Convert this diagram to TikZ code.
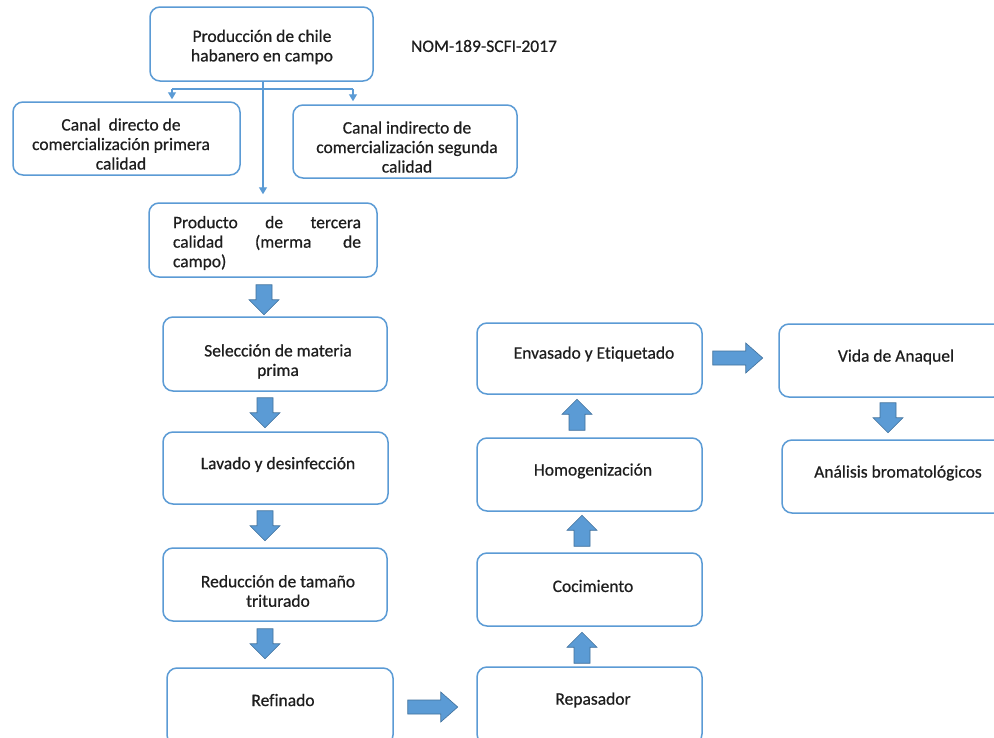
\documentclass[tikz,border=0pt]{standalone}
\usepackage{fontspec}
\setmainfont{Carlito}[Ligatures=NoCommon, FakeBold=0.6]
\usetikzlibrary{calc,arrows.meta}
\definecolor{bord}{HTML}{5B9BD5}
\definecolor{afill}{HTML}{5B9BD5}
\definecolor{aline}{HTML}{41719C}
\definecolor{txtc}{HTML}{1E1E1E}
\newcommand\downblk[1]{\draw[blk] (#1) ++(-8,0) -- ++(16,0) -- ++(0,15) -- ++(7,0) -- ++(-15,15) -- ++(-15,-15) -- ++(7,0) -- cycle;}
\newcommand\upblk[1]{\draw[blk] (#1) ++(-8,0) -- ++(0,-16) -- ++(-7,0) -- ++(15,-15) -- ++(15,15) -- ++(-7,0) -- ++(0,16) -- cycle;}
\newcommand\rightblk[1]{\draw[blk] (#1) ++(0,-7) -- ++(33,0) -- ++(0,-8) -- ++(17,15) -- ++(-17,15) -- ++(0,-8) -- ++(-33,0) -- cycle;}
\begin{document}
\begin{tikzpicture}[x=1pt,y=-1pt,
  box/.style={draw=bord, line width=1.5pt, rounded corners=10pt, fill=white, inner sep=0pt},
  txt/.style={font=\fontsize{17.5}{19.5}\selectfont, text=txtc, align=center, inner sep=0pt},
  conn/.style={draw=bord, line width=1.3pt},
  connarr/.style={conn, -{Triangle[width=8pt,length=7pt]}},
  blk/.style={fill=afill, draw=aline, line width=0.6pt, line join=miter}]
\useasboundingbox (0,0) rectangle (994,737);
\fill[white] (0,0) rectangle (994,737);
\clip (0,0) rectangle (994,737);

% boxes
\node[box, minimum width=223pt, minimum height=74pt] (prod) at (261.5,44) {};
\node[box, minimum width=227pt, minimum height=73pt] (cdir) at (126.5,138.5) {};
\node[box, minimum width=224pt, minimum height=73pt] (cind) at (405,141.5) {};
\node[box, minimum width=228pt, minimum height=74pt] (terc) at (263,240) {};
\node[box, minimum width=224pt, minimum height=74pt] (sel) at (275,354) {};
\node[box, minimum width=225pt, minimum height=72pt] (lav) at (275.5,468) {};
\node[box, minimum width=224pt, minimum height=73pt] (red) at (275,584.5) {};
\node[box, minimum width=226pt, minimum height=77pt] (ref) at (280,706.5) {};
\node[box, minimum width=225pt, minimum height=77pt] (rep) at (589.5,705.5) {};
\node[box, minimum width=225pt, minimum height=73pt] (coc) at (589.5,589.5) {};
\node[box, minimum width=225pt, minimum height=73pt] (hom) at (589.5,474.5) {};
\node[box, minimum width=225pt, minimum height=71pt] (env) at (589.5,358.5) {};
\node[box, minimum width=225pt, minimum height=73pt] (vida) at (891.5,360.5) {};
\node[box, minimum width=225pt, minimum height=73pt] (anal) at (894.5,476.5) {};

% texts
\node[txt] (prodt) at (262,47) {Producción de chile\\habanero en campo};
\node[txt] (nom) at (484,46) {NOM-189-SCFI-2017};
\node[txt] (cdirt) at (121,144) {Canal\ \ directo de\\comercialización primera\\calidad};
\node[txt] (cindt) at (407,147) {Canal indirecto de\\comercialización segunda\\calidad};
\node[txt, text width=188pt, align=left] (terct) at (267,243) {Producto\hfill de\hfill tercera\\calidad\hfill (merma\hfill de\\campo)};
\node[txt] (selt) at (278,361.5) {Selección de materia\\prima};
\node[txt] (lavt) at (278,464.5) {Lavado y desinfección};
\node[txt] (redt) at (278,591) {Reducción de tamaño\\triturado};
\node[txt] (reft) at (283,700) {Refinado};
\node[txt] (rept) at (593,700) {Repasador};
\node[txt] (coct) at (593,586) {Cocimiento};
\node[txt] (homt) at (593,471) {Homogenización};
\node[txt] (envt) at (594,354) {Envasado y Etiquetado};
\node[txt] (vidat) at (896,357) {Vida de Anaquel};
\node[txt] (analt) at (898,473) {Análisis bromatológicos};

% thin connectors
\coordinate (hl) at (172,89);
\coordinate (hr) at (353,89);
\draw[conn] (hl) -- (hr);
\draw[connarr] (hl) -- ($(hl |- cdir.north)+(0,-2)$);
\draw[connarr] (hr) -- ($(hr |- cind.north)+(0,-3)$);
\draw[connarr] (terc.north |- prod.south) -- ($(terc.north)+(0,-8)$);

% block arrows
\downblk{$(terc.south)+(1,7)$}
\downblk{$(sel.south)+(-10,6)$}
\downblk{$(lav.south)+(-10.5,6)$}
\downblk{$(red.south)+(-10,7)$}
\downblk{$(vida.south)+(-3.5,5)$}
\upblk{$(rep.north)+(-7.5,-3)$}
\upblk{$(coc.north)+(-7.5,-6)$}
\upblk{$(hom.north)+(-12.5,-7)$}
\rightblk{$(ref.east)+(14,0.5)$}
\rightblk{$(env.east)+(10,-0.5)$}
\end{tikzpicture}
\end{document}
